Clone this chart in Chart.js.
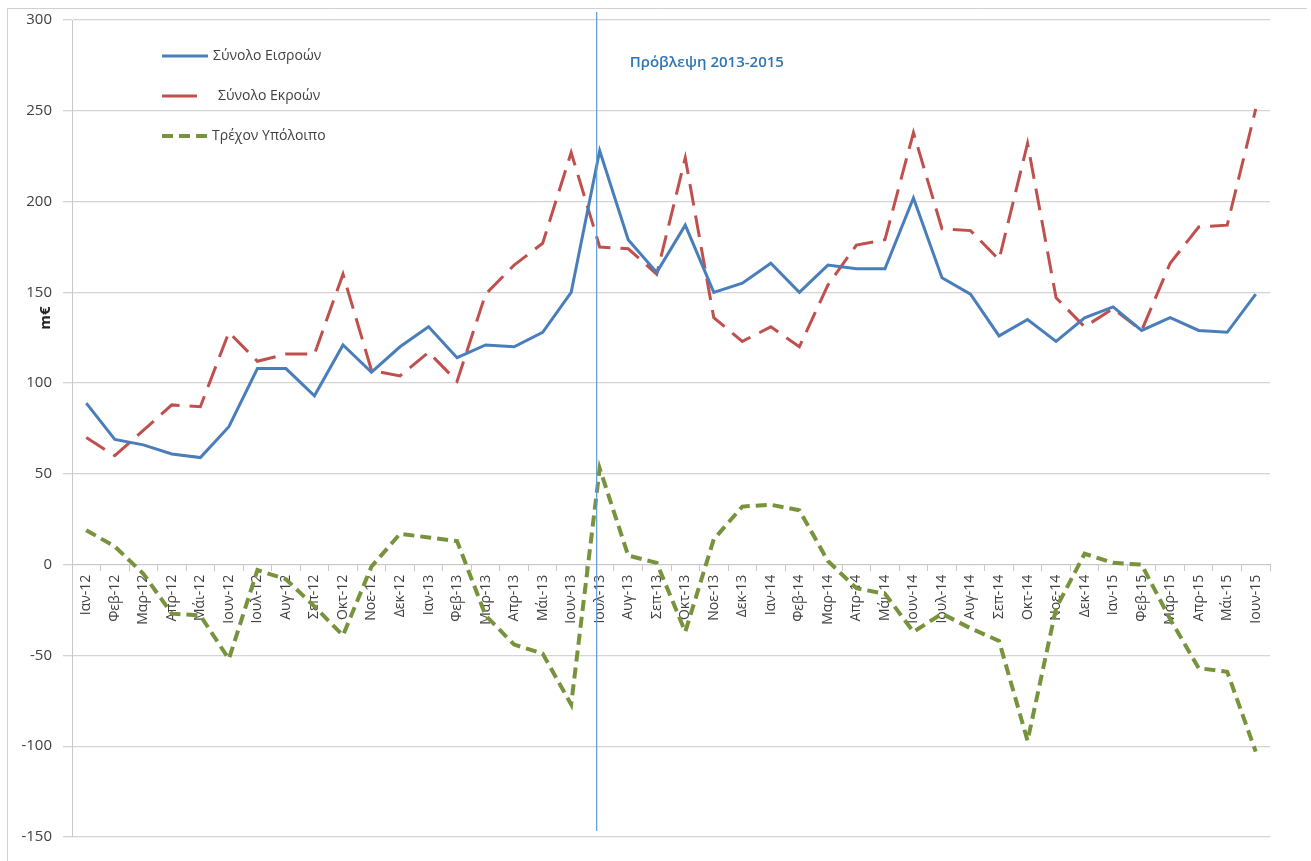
<!DOCTYPE html>
<html>
<head>
<meta charset="utf-8">
<script src="https://cdn.jsdelivr.net/npm/chart.js@4"></script>
<style>
  html, body { margin: 0; padding: 0; background: #fff; }
  #wrap { width: 1311px; height: 861px; position: relative; }
</style>
</head>
<body>
<div id="wrap"><canvas id="chart"></canvas></div>
<script>
const months = ["Ιαν-12", "Φεβ-12", "Μαρ-12", "Απρ-12", "Μάι-12", "Ιουν-12", "Ιουλ-12", "Αυγ-12", "Σεπ-12", "Οκτ-12", "Νοε-12", "Δεκ-12",
  "Ιαν-13", "Φεβ-13", "Μαρ-13", "Απρ-13", "Μάι-13", "Ιουν-13", "Ιουλ-13", "Αυγ-13", "Σεπ-13", "Οκτ-13", "Νοε-13", "Δεκ-13",
  "Ιαν-14", "Φεβ-14", "Μαρ-14", "Απρ-14", "Μάι-14", "Ιουν-14", "Ιουλ-14", "Αυγ-14", "Σεπ-14", "Οκτ-14", "Νοε-14", "Δεκ-14",
  "Ιαν-15", "Φεβ-15", "Μαρ-15", "Απρ-15", "Μάι-15", "Ιουν-15"];
const inflows = [89, 69, 66, 61, 59, 76, 108, 108, 93, 121, 106, 120,
  131, 114, 121, 120, 128, 150, 228, 179, 161, 187, 150, 155,
  166, 150, 165, 163, 163, 202, 158, 149, 126, 135, 123, 136,
  142, 129, 136, 129, 128, 149];
const outflows = [70, 60, 74, 88, 87, 128, 112, 116, 116, 160, 107, 104,
  117, 101, 149, 165, 177, 227, 175, 174, 160, 224, 136, 123,
  131, 120, 154, 176, 179, 238, 185, 184, 168, 232, 147, 131,
  141, 129, 166, 186, 187, 251];
const balance = [19, 10, -5, -27, -28, -52, -3, -8, -23, -39, -1, 17,
  15, 13, -28, -44, -49, -77, 53, 5, 1, -37, 14, 32,
  33, 30, 2, -13, -16, -37, -27, -35, -42, -97, -24, 6,
  1, 0, -30, -57, -59, -103];
const yTicks = { min: -150, max: 300, step: 50 };
const forecastStart = "Ιουλ-13";
const forecastLabel = "Πρόβλεψη 2013-2015";
const seriesNames = ["Σύνολο Εισροών", "Σύνολο Εκροών", "Τρέχον Υπόλοιπο"];

const font = "'Open Sans', 'Noto Sans', sans-serif";

// frame, forecast line, legend and unit label
const extras = {
  id: "extras",
  beforeDraw(chart) {
    const c = chart.ctx;
    c.save();
    c.fillStyle = "#fff";
    c.fillRect(0, 0, chart.width, chart.height);
    c.strokeStyle = "#d0d0d0";
    c.lineWidth = 1;
    c.beginPath();
    c.moveTo(7.5, chart.height);
    c.lineTo(7.5, 8.5);
    c.lineTo(chart.width - 4, 8.5);
    c.stroke();
    c.restore();
  },
  afterDatasetsDraw(chart) {
    const c = chart.ctx;
    const area = chart.chartArea;
    const x = chart.scales.x.getPixelForValue(months.indexOf(forecastStart)) - 3;
    c.save();
    c.strokeStyle = "#5b9bd5";
    c.lineWidth = 1.2;
    c.beginPath();
    c.moveTo(x, area.top - 8);
    c.lineTo(x, area.bottom - 6);
    c.stroke();

    c.fillStyle = "#2e75b6";
    c.font = "600 15px " + font;
    c.textBaseline = "middle";
    c.fillText(forecastLabel, x + 33, area.top + 43);

    // legend
    const lens = [46, 35, 48];
    const textX = [213, 218, 212];
    const legendDash = [[], [], [11, 6]];
    chart.data.datasets.forEach((ds, i) => {
      const y = area.top + 36 + i * 40;
      c.strokeStyle = ds.borderColor;
      c.lineWidth = ds.borderWidth;
      c.setLineDash(legendDash[i]);
      c.beginPath();
      c.moveTo(162, y);
      c.lineTo(162 + lens[i], y);
      c.stroke();
      c.setLineDash([]);
      c.fillStyle = "#404040";
      c.font = "14px " + font;
      c.fillText(ds.label, textX[i], y);
    });

    // unit label
    c.translate(46, 318);
    c.rotate(-Math.PI / 2);
    c.fillStyle = "#222";
    c.font = "bold 15px " + font;
    c.textAlign = "center";
    c.fillText("m€", 0, 0);
    c.restore();
  }
};

new Chart(document.getElementById("chart"), {
  type: "line",
  data: {
    labels: months,
    datasets: [
      {
        label: seriesNames[0],
        data: inflows,
        borderColor: "#4a7ebb",
        borderWidth: 3,
        pointRadius: 0,
        tension: 0,
      },
      {
        label: seriesNames[1],
        data: outflows,
        borderColor: "#c0504d",
        borderWidth: 3,
        borderDash: [22, 10],
        pointRadius: 0,
        tension: 0,
      },
      {
        label: seriesNames[2],
        data: balance,
        borderColor: "#77933c",
        borderWidth: 4,
        borderDash: [11, 6],
        pointRadius: 0,
        tension: 0,
      },
    ],
  },
  options: {
    responsive: true,
    maintainAspectRatio: false,
    animation: false,
    layout: { padding: { left: 6, right: 41, top: 19, bottom: 24 } },
    plugins: {
      legend: { display: false },
      tooltip: { enabled: false },
    },
    scales: {
      x: {
        position: { y: 0 },
        offset: true,
        grid: {
          drawOnChartArea: false,
          offset: true,
          tickLength: 6,
          color: "#c8c8c8",
        },
        border: { color: "#c8c8c8" },
        ticks: {
          autoSkip: false,
          maxRotation: 90,
          minRotation: 90,
          padding: 4,
          color: "#404040",
          font: { family: font, size: 14 },
        },
      },
      y: {
        min: yTicks.min,
        max: yTicks.max,
        afterFit(scale) { scale.width = 66; },
        grid: { color: "#d4d4d4", lineWidth: 1.3, tickLength: 9 },
        border: { color: "#c8c8c8" },
        ticks: {
          stepSize: yTicks.step,
          padding: 11,
          color: "#404040",
          font: { family: font, size: 15 },
        },
      },
    },
  },
  plugins: [extras],
});
</script>
</body>
</html>
